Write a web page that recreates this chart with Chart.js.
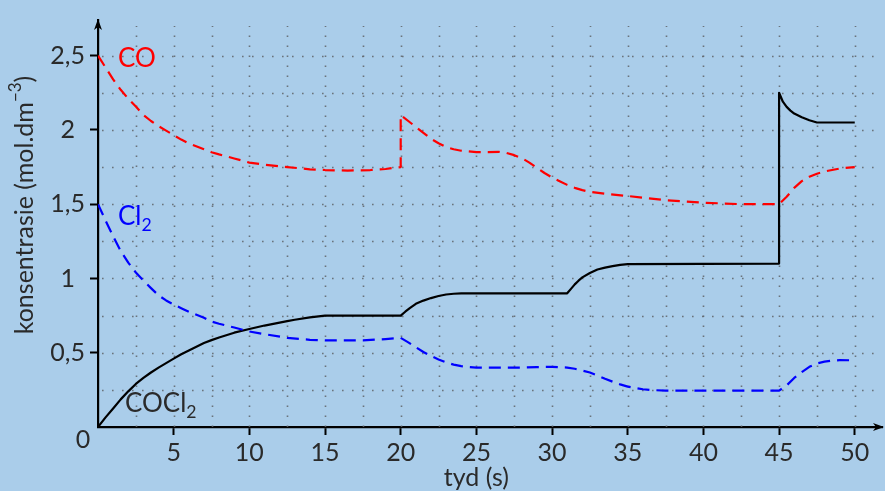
<!DOCTYPE html>
<html>
<head>
<meta charset="utf-8">
<title>COCl2 ewewig</title>
<script src="https://cdn.jsdelivr.net/npm/chart.js@4/dist/chart.umd.min.js"></script>
<style>
  html, body { margin: 0; padding: 0; background: #aacdea; }
  #chart { display: block; }
</style>
</head>
<body>
<canvas id="chart" width="885" height="491"></canvas>
<script>
// --- data (time in s, concentration in mol.dm-3) ---
const timeCO = [0, 0.5, 1, 1.5, 2, 2.5, 3, 3.5, 4, 4.5, 5, 5.5, 6, 7, 7.5, 8, 9, 10, 11, 12.5, 14, 15, 16.5, 18, 19, 20, 20,
  20.5, 21, 21.5, 22, 22.5, 23, 23.5, 24, 25, 26.5, 27, 27.5, 28, 28.5, 29, 29.5, 30, 30.5, 31, 31.5, 32, 32.5, 33.5, 35,
  37.5, 40, 42.5, 45, 45.5, 46, 46.5, 47, 47.5, 48, 48.5, 49, 50];
const valuesCO = [2.5, 2.42, 2.34, 2.27, 2.21, 2.157, 2.1, 2.06, 2.025, 1.995, 1.965, 1.935, 1.91, 1.87, 1.85, 1.835, 1.808, 1.78, 1.766, 1.75, 1.735, 1.73, 1.726, 1.73, 1.737, 1.75, 2.1,
  2.06, 2.02, 1.98, 1.94, 1.91, 1.885, 1.87, 1.86, 1.85, 1.852, 1.845, 1.83, 1.81, 1.78, 1.745, 1.71, 1.68, 1.655, 1.63, 1.61, 1.595, 1.583, 1.57, 1.555,
  1.527, 1.51, 1.5, 1.5, 1.55, 1.61, 1.655, 1.685, 1.705, 1.72, 1.73, 1.74, 1.75];

const timeCl2 = [0, 0.5, 1, 1.5, 2, 2.5, 3, 3.5, 4, 4.5, 5, 5.5, 6, 7, 7.5, 8, 9, 10, 11, 12.5, 14, 15, 17.5, 19, 20,
  20.5, 21, 21.5, 22, 22.5, 23, 23.5, 24, 24.5, 25, 28, 29, 30, 31, 31.5, 32, 32.5, 33, 33.5, 34, 34.5, 35, 35.5, 36, 36.5, 37.5,
  40, 45, 45.5, 46, 46.5, 47, 47.5, 48, 48.5, 49, 50];
const valuesCl2 = [1.5, 1.39, 1.284, 1.185, 1.107, 1.04, 0.986, 0.935, 0.886, 0.852, 0.824, 0.8, 0.776, 0.735, 0.71, 0.695, 0.67, 0.643, 0.625, 0.6, 0.587, 0.583, 0.583, 0.592, 0.6,
  0.57, 0.537, 0.505, 0.478, 0.455, 0.435, 0.42, 0.41, 0.403, 0.4, 0.4, 0.403, 0.405, 0.4, 0.392, 0.38, 0.367, 0.347, 0.325, 0.305, 0.287, 0.272, 0.262, 0.254, 0.249, 0.245,
  0.245, 0.245, 0.28, 0.33, 0.37, 0.405, 0.428, 0.44, 0.447, 0.45, 0.449];

const timeCOCl2 = [0, 0.5, 1, 1.5, 2, 2.5, 3, 3.5, 4, 4.5, 5, 5.5, 6, 7, 7.5, 8, 9, 10, 11, 12, 12.5, 13, 14, 15, 20,
  20.3, 20.6, 21, 21.5, 22, 22.5, 23, 23.5, 24, 31, 31.25, 31.5, 31.75, 32, 32.5, 33, 33.5, 34, 34.5, 35, 45, 45,
  45.25, 45.5, 45.75, 46, 46.5, 47, 47.5, 50];
const valuesCOCl2 = [0, 0.065, 0.125, 0.186, 0.24, 0.29, 0.33, 0.367, 0.4, 0.43, 0.46, 0.49, 0.515, 0.565, 0.585, 0.603, 0.635, 0.66, 0.683, 0.703, 0.713, 0.722, 0.738, 0.75, 0.75,
  0.776, 0.8, 0.829, 0.851, 0.868, 0.882, 0.892, 0.897, 0.9, 0.9, 0.93, 0.96, 0.985, 1.007, 1.037, 1.06, 1.073, 1.083, 1.092, 1.097, 1.1, 2.25,
  2.19, 2.155, 2.13, 2.11, 2.085, 2.065, 2.05, 2.05];

const xTicks = [5, 10, 15, 20, 25, 30, 35, 40, 45, 50];
const yTicks = [0.5, 1, 1.5, 2, 2.5];
const gridStepX = 2.5;
const gridStepY = 0.25;

const FONT = 'Lato, "Open Sans", "DejaVu Sans", sans-serif';
const INK = '#2a2a2a';

function pairs(ts, vs) {
  return ts.map((t, i) => ({ x: t, y: vs[i] }));
}

// dotted grid behind the curves
const dotGrid = {
  id: 'dotGrid',
  beforeDatasetsDraw(chart) {
    const { ctx, scales: { x, y } } = chart;
    ctx.save();
    ctx.strokeStyle = 'rgba(95,100,105,0.85)';
    ctx.lineWidth = 1.6;
    ctx.setLineDash([1.6, 8.4]);
    for (let t = gridStepX; t <= 50 + 1e-9; t += gridStepX) {
      const px = Math.round(x.getPixelForValue(t)) + 0.5;
      ctx.beginPath();
      ctx.moveTo(px, y.getPixelForValue(0));
      ctx.lineTo(px, y.getPixelForValue(2.7));
      ctx.stroke();
    }
    for (let c = gridStepY; c <= 2.5 + 1e-9; c += gridStepY) {
      const py = Math.round(y.getPixelForValue(c)) + 0.5;
      ctx.beginPath();
      ctx.moveTo(x.getPixelForValue(0) + 4, py);
      ctx.lineTo(x.getPixelForValue(51.5), py);
      ctx.stroke();
    }
    ctx.restore();
  }
};

// arrows, titles and curve labels
const decorations = {
  id: 'decorations',
  afterDraw(chart) {
    const { ctx, chartArea: a, scales: { x, y } } = chart;
    ctx.save();
    ctx.fillStyle = '#000';
    // y arrow
    const ax = x.getPixelForValue(0);
    ctx.beginPath();
    ctx.moveTo(ax, a.top - 1);
    ctx.lineTo(ax - 4, a.top + 10);
    ctx.lineTo(ax, a.top + 7);
    ctx.lineTo(ax + 4, a.top + 10);
    ctx.closePath();
    ctx.fill();
    // x arrow
    const ay = y.getPixelForValue(0);
    ctx.beginPath();
    ctx.moveTo(a.right + 2, ay);
    ctx.lineTo(a.right - 9, ay - 4);
    ctx.lineTo(a.right - 6, ay);
    ctx.lineTo(a.right - 9, ay + 4);
    ctx.closePath();
    ctx.fill();

    ctx.textBaseline = 'alphabetic';
    ctx.textAlign = 'left';

    function chem(parts, px, py, size, color) {
      ctx.fillStyle = color;
      let cx = px;
      parts.forEach(([txt, kind]) => {
        const s = kind ? size * 0.68 : size;
        ctx.font = s + 'px ' + FONT;
        const dy = kind === 'sub' ? size * 0.22 : kind === 'sup' ? -size * 0.38 : 0;
        ctx.fillText(txt, cx, py + dy);
        cx += ctx.measureText(txt).width;
      });
      return cx - px;
    }

    chem([['CO']], 118, 67, 26, '#ff0000');
    chem([['Cl'], ['2', 'sub']], 118, 225, 26, '#0000ff');
    chem([['COCl'], ['2', 'sub']], 125, 412, 26, INK);

    // origin label
    ctx.fillStyle = INK;
    ctx.font = '25px ' + FONT;
    ctx.textAlign = 'center';
    ctx.textBaseline = 'middle';
    ctx.fillText('0', 83, 440);

    // x title
    ctx.font = '25px ' + FONT;
    ctx.fillText('tyd (s)', x.getPixelForValue(25), 478);

    // y title, rotated
    ctx.save();
    ctx.translate(25, 205);
    ctx.rotate(-Math.PI / 2);
    ctx.textAlign = 'left';
    ctx.textBaseline = 'middle';
    const parts = [['konsentrasie (mol.dm'], ['\u22123', 'sup'], [')']];
    let w = 0;
    parts.forEach(([t, k]) => {
      ctx.font = (k ? 25 * 0.68 : 25) + 'px ' + FONT;
      w += ctx.measureText(t).width;
    });
    chem(parts, -w / 2, 0, 25, INK);
    ctx.restore();

    ctx.restore();
  }
};

new Chart(document.getElementById('chart'), {
  type: 'line',
  data: {
    datasets: [
      { label: 'CO', data: pairs(timeCO, valuesCO), borderColor: '#ff0000', borderDash: [12, 7] },
      { label: 'Cl2', data: pairs(timeCl2, valuesCl2), borderColor: '#0000ff', borderDash: [12, 7] },
      { label: 'COCl2', data: pairs(timeCOCl2, valuesCOCl2), borderColor: '#000000' }
    ]
  },
  options: {
    responsive: false,
    animation: false,
    devicePixelRatio: 1,
    layout: { padding: { top: 13, right: 3, left: 0, bottom: 0 } },
    elements: {
      point: { radius: 0 },
      line: { borderWidth: 2.2, tension: 0, fill: false, borderJoinStyle: 'round' }
    },
    plugins: {
      legend: { display: false },
      tooltip: { enabled: false }
    },
    scales: {
      x: {
        type: 'linear',
        min: 0,
        max: 51.8,
        afterFit: s => { s.height = 64; },
        afterBuildTicks: s => { s.ticks = xTicks.map(v => ({ value: v })); },
        ticks: {
          font: { family: FONT, size: 25 },
          color: INK,
          padding: 3,
          maxRotation: 0,
          autoSkip: false
        },
        grid: {
          drawOnChartArea: false,
          drawTicks: true,
          tickLength: 8,
          tickWidth: 2,
          tickColor: '#000'
        },
        border: { display: true, color: '#000', width: 2.2 }
      },
      y: {
        type: 'linear',
        min: 0,
        max: 2.74,
        afterFit: s => { s.width = 98; },
        afterBuildTicks: s => { s.ticks = yTicks.map(v => ({ value: v })); },
        ticks: {
          font: { family: FONT, size: 25 },
          color: INK,
          padding: 5,
          crossAlign: 'center',
          autoSkip: false,
          callback: v => String(v).replace('.', ',')
        },
        grid: {
          drawOnChartArea: false,
          drawTicks: true,
          tickLength: 8,
          tickWidth: 2,
          tickColor: '#000'
        },
        border: { display: true, color: '#000', width: 2.2 }
      }
    }
  },
  plugins: [dotGrid, decorations]
});
</script>
</body>
</html>
